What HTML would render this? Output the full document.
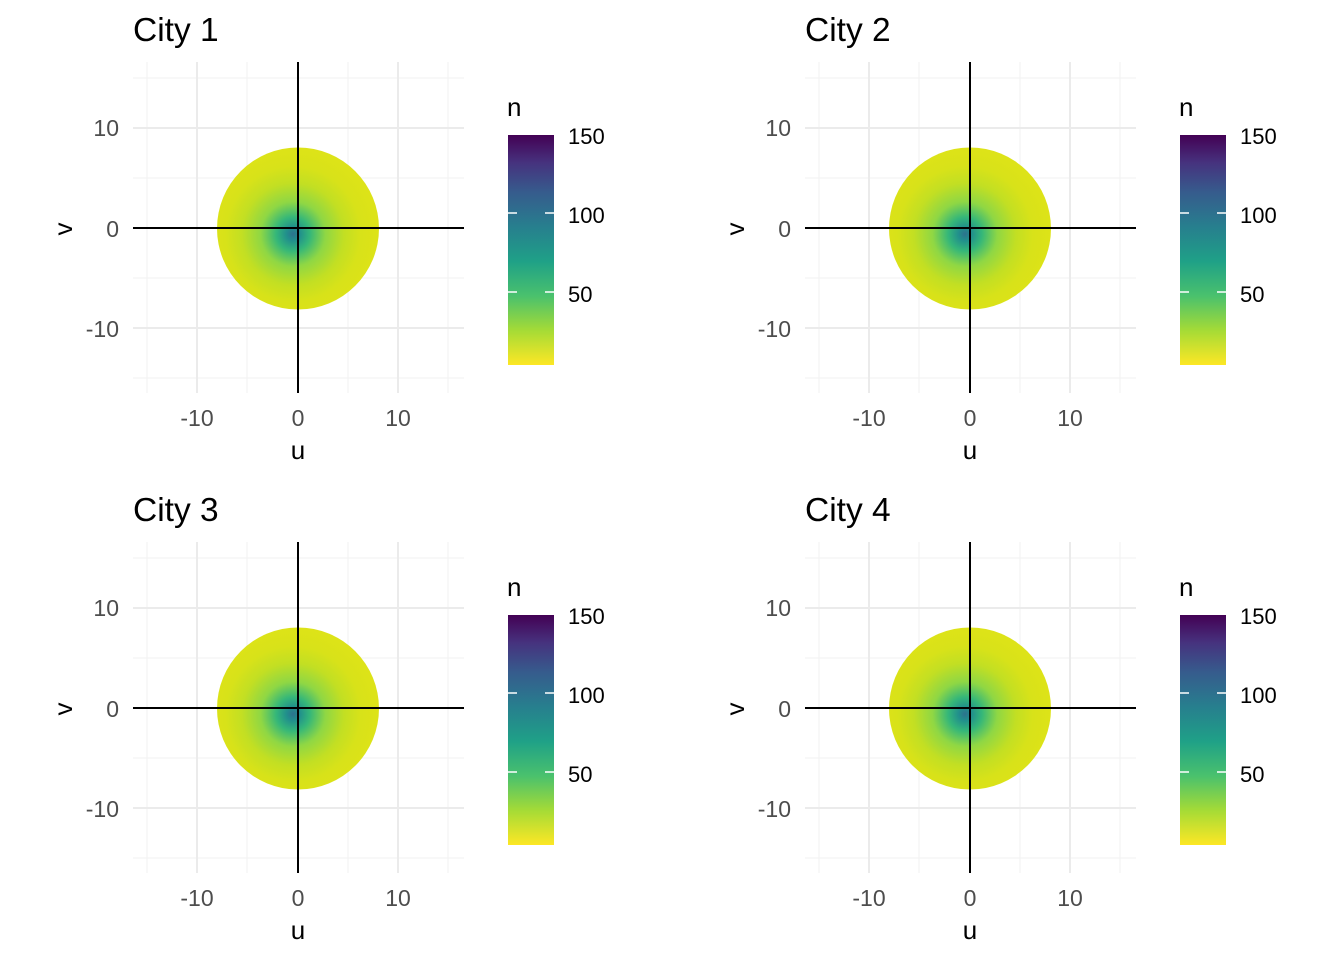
<!DOCTYPE html>
<html><head><meta charset="utf-8"><style>body{margin:0;background:#fff}svg{display:block}text{font-family:"Liberation Sans",Arial,sans-serif}</style></head>
<body>
<svg width="1344" height="960" viewBox="0 0 1344 960" xmlns="http://www.w3.org/2000/svg">
<defs>
<radialGradient id="rg" gradientUnits="userSpaceOnUse" cx="293" cy="234" r="85" fx="293" fy="234">
<stop offset="0" stop-color="#2c728e"/>
<stop offset="0.08" stop-color="#21908c"/>
<stop offset="0.2" stop-color="#35b779"/>
<stop offset="0.38" stop-color="#8fd744"/>
<stop offset="0.6" stop-color="#c2df23"/>
<stop offset="0.8" stop-color="#d8e219"/>
<stop offset="1" stop-color="#dde318"/>
</radialGradient>
<linearGradient id="cb" x1="0" y1="1" x2="0" y2="0">
<stop offset="0" stop-color="#fde725"/>
<stop offset="0.15" stop-color="#a5db36"/>
<stop offset="0.3" stop-color="#4ac16d"/>
<stop offset="0.45" stop-color="#1fa187"/>
<stop offset="0.6" stop-color="#277f8e"/>
<stop offset="0.75" stop-color="#365c8d"/>
<stop offset="0.88" stop-color="#46327e"/>
<stop offset="1" stop-color="#440154"/>
</linearGradient>
<g id="p">
<g stroke="#f2f2f2" stroke-width="1">
<line x1="147" y1="62" x2="147" y2="393"/><line x1="247" y1="62" x2="247" y2="393"/><line x1="348" y1="62" x2="348" y2="393"/><line x1="448" y1="62" x2="448" y2="393"/>
<line x1="133" y1="78" x2="464" y2="78"/><line x1="133" y1="178" x2="464" y2="178"/><line x1="133" y1="278" x2="464" y2="278"/><line x1="133" y1="378" x2="464" y2="378"/>
</g>
<g stroke="#ebebeb" stroke-width="2">
<line x1="197" y1="62" x2="197" y2="393"/><line x1="398" y1="62" x2="398" y2="393"/>
<line x1="133" y1="128" x2="464" y2="128"/><line x1="133" y1="328" x2="464" y2="328"/>
</g>
<circle cx="298" cy="228.5" r="81" fill="url(#rg)"/>
<line x1="298" y1="62" x2="298" y2="393" stroke="#000" stroke-width="2"/>
<line x1="133" y1="228" x2="464" y2="228" stroke="#000" stroke-width="2"/>
<g font-size="23" fill="#4d4d4d" text-anchor="end">
<text x="119" y="136">10</text><text x="119" y="237">0</text><text x="119" y="337">-10</text>
</g>
<g font-size="23" fill="#4d4d4d" text-anchor="middle">
<text x="197" y="426">-10</text><text x="298" y="426">0</text><text x="398" y="426">10</text>
</g>
<text x="298" y="459" font-size="26" text-anchor="middle">u</text>
<text transform="translate(72,229) rotate(-90)" font-size="26" text-anchor="middle">v</text>
<text x="507" y="116" font-size="26">n</text>
<rect x="508" y="135" width="46" height="230" fill="url(#cb)"/>
<g stroke="#fff" stroke-width="1.5">
<line x1="508" y1="213" x2="517" y2="213"/><line x1="545" y1="213" x2="554" y2="213"/>
<line x1="508" y1="292" x2="517" y2="292"/><line x1="545" y1="292" x2="554" y2="292"/>
</g>
<g font-size="22" fill="#000">
<text x="568" y="144">150</text><text x="568" y="223">100</text><text x="568" y="302">50</text>
</g>
</g>
</defs>
<use href="#p"/>
<text x="133" y="41" font-size="33.5">City 1</text>
<g transform="translate(672,0)"><use href="#p"/><text x="133" y="41" font-size="33.5">City 2</text></g>
<g transform="translate(0,480)"><use href="#p"/><text x="133" y="41" font-size="33.5">City 3</text></g>
<g transform="translate(672,480)"><use href="#p"/><text x="133" y="41" font-size="33.5">City 4</text></g>
</svg>
</body></html>
